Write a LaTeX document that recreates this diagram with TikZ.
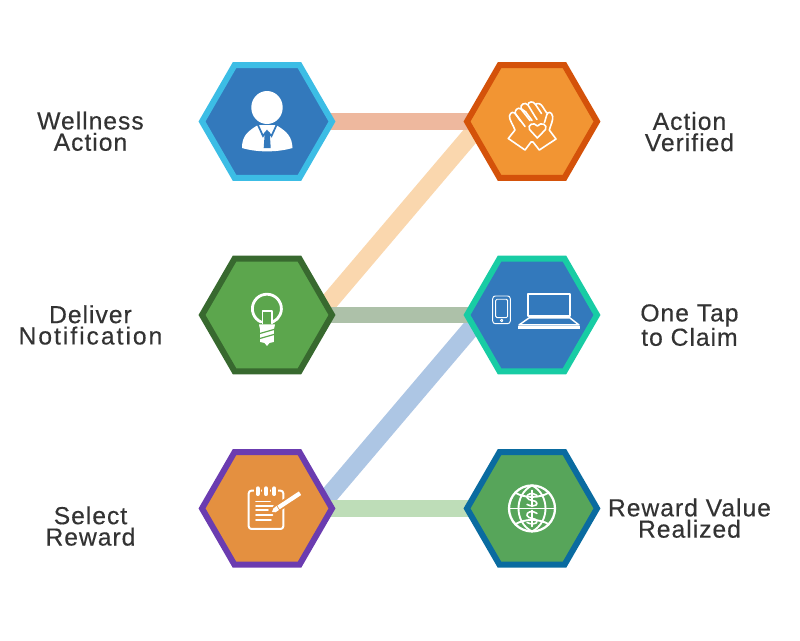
\documentclass[tikz,border=0pt]{standalone}
\usepackage{fontspec}
\setmainfont[LetterSpace=4,FakeBold=0.35]{Liberation Sans}
\usetikzlibrary{positioning}
\usetikzlibrary{shapes.geometric, backgrounds}
\definecolor{hexblue}{HTML}{3379BC}
\definecolor{hexsky}{HTML}{3CBDE5}
\definecolor{hexora}{HTML}{F29533}
\definecolor{hexrust}{HTML}{D4520A}
\definecolor{hexgre}{HTML}{5CA64D}
\definecolor{hexmoss}{HTML}{38692F}
\definecolor{hexteal}{HTML}{18CCA4}
\definecolor{hexamb}{HTML}{E49040}
\definecolor{hexpur}{HTML}{6B3CB0}
\definecolor{hexgre2}{HTML}{57A55A}
\definecolor{hexnavy}{HTML}{0A6BA0}
\definecolor{linkpink}{HTML}{EEB89E}
\definecolor{linkpeach}{HTML}{FAD7AE}
\definecolor{linksage}{HTML}{ADC1A9}
\definecolor{linkblue}{HTML}{ADC6E4}
\definecolor{linkmint}{HTML}{BEDDB8}
\definecolor{labelgray}{HTML}{333333}
\tikzstyle{hexa} = [regular polygon, regular polygon sides=6, shape border rotate=0, minimum size=97.5pt, inner sep=0pt, outer sep=0pt, line width=4.5pt, miter limit=10]
\tikzstyle{caption} = [align=center, text=labelgray, font=\fontsize{18.5}{16}\selectfont]
\tikzstyle{hlink} = [line width=12.6pt]
\tikzstyle{dlink} = [line width=13.5pt]
\tikzstyle{icon} = [draw=white, line width=1.2pt, line join=round, line cap=round]
\begin{document}
\begin{tikzpicture}[x=0.75pt,y=-0.75pt,on grid]
	\useasboundingbox (0,0) rectangle (800,640);
	\node (wellness) [hexa, fill=hexblue, draw=hexsky] at (267,121.5) {};
	\node (deliver) [hexa, fill=hexgre, draw=hexmoss, below=145.1pt of wellness] {};
	\node (select) [hexa, fill=hexamb, draw=hexpur, below=145.1pt of deliver] {};
	\node (verified) [hexa, fill=hexora, draw=hexrust, right=198.75pt of wellness] {};
	\node (claim) [hexa, fill=hexblue, draw=hexteal, right=198.75pt of deliver] {};
	\node (realized) [hexa, fill=hexgre2, draw=hexnavy, right=198.75pt of select] {};
	\node (lwellness) [caption, left=132.4pt of wellness, yshift=-7.3pt] {Wellness\\Action};
	\node (ldeliver) [caption, left=132.4pt of deliver, yshift=-7.5pt] {Deliver\\\addfontfeature{LetterSpace=8}Notification};
	\node (lselect) [caption, left=132.4pt of select, yshift=-13.2pt] {Select\\Reward};
	\node (lverified) [caption, right=118.1pt of verified, yshift=-7.6pt] {Action\\Verified};
	\node (lclaim) [caption, right=118.1pt of claim, yshift=-7.6pt] {One Tap\\to Claim};
	\node (lrealized) [caption, right=118.1pt of realized, yshift=-7.3pt] {Reward Value\\Realized};
	\begin{scope}[on background layer]
		\draw [dlink, linkpeach] ([shift={(36pt,-2.6pt)}]deliver.center) -- ([shift={(-35pt,2.6pt)}]verified.center);
		\draw [dlink, linkblue] ([shift={(36pt,-2.6pt)}]select.center) -- ([shift={(-35pt,2.6pt)}]claim.center);
		\draw [hlink, linkpink] (wellness.center) -- (verified.center);
		\draw [hlink, linksage] (deliver.center) -- (claim.center);
		\draw [hlink, linkmint] (select.center) -- (realized.center);
	\end{scope}
	\begin{scope}[shift={(wellness.center)}]
		\fill [white] (0,-14) ellipse [x radius=15.7, y radius=16.5];
		\fill [white] (-25,26.5) .. controls (-25,15) and (-20,10) .. (-9,3.5) -- (9,3.5) .. controls (20,10) and (25,15) .. (25.5,26.5) .. controls (10,31) and (-10,31) .. (-25,26.5) -- cycle;
		\draw [hexblue, line width=1.3pt, line join=miter] (-9.5,2.5) -- (-4,14.5) -- (0,9.5) -- (4.5,14.5) -- (10,2.5);
		\fill [hexblue] (-2.5,10.5) -- (2.5,10.5) -- (3,15) -- (3.7,26.5) -- (-3.3,26.5) -- (-2.5,15) -- cycle;
	\end{scope}
	\begin{scope}[shift={(verified.center)}, icon]
		\draw (-23.7,17) -- (-7,28.5) -- (-1,20.5) -- (1,20.5) -- (7.3,28.5) -- (24,17.5) -- (17.3,8.5) .. controls (19,3) and (21,-1) .. (20.7,-4.8) .. controls (20,-10) and (15.5,-10.5) .. (14.7,-6.5) -- (12.5,1);
		\draw (-23.7,17) -- (-17,8.5) .. controls (-19,3) and (-23,-2) .. (-22.5,-5.5) .. controls (-21.5,-10) and (-18,-10) .. (-16,-7) -- (-7,5);
		\draw (-11.5,-0.5) -- (-16.5,-7.5) .. controls (-18,-11) and (-14,-15) .. (-11,-12.5) -- (-2,-1);
		\draw (-5.5,-9) -- (-11,-13) .. controls (-12,-17) and (-7,-20) .. (-4,-16.5) -- (3,-5) (-6,-9) -- (0,-1);
		\draw (-4,-16.5) .. controls (-4,-20) and (1.5,-21) .. (3.5,-17) -- (9.5,-8) (3,-5) -- (5,-2);
		\draw (3.5,-17) .. controls (5,-19) and (9,-18) .. (10.5,-15) -- (14.7,-8.5);
		\draw (5.3,16.5) -- (-2.5,8) .. controls (-5,3) and (2,0) .. (5.3,4.5) .. controls (9,0) and (16,3) .. (13.5,8) -- cycle;
	\end{scope}
	\begin{scope}[shift={(deliver.center)}, icon]
		\draw [line width=2.1pt] (-6,7) arc [start angle=114, end angle=426, radius=14.5] ;
		\draw (-4.5,8.5) -- (-4.5,-4) -- (4.7,-4) -- (4.7,8.5);
		\fill [white] (-8,9.5) -- (8,9.5) -- (6.8,15) -- (6.8,27) -- (2.5,28) -- (0,31) -- (-2.5,28) -- (-6.8,27) -- (-6.8,15) -- cycle;
		\draw [hexgre, line width=0.9pt, line cap=butt] (-7,18.5) -- (7,14.5) (-7,23.5) -- (7,19.5);
	\end{scope}
	\begin{scope}[shift={(claim.center)}, icon]
		\draw [line width=0.7pt, rounded corners=2pt] (-39.3,-19) rectangle (-21.7,8.7);
		\draw [line width=0.7pt, rounded corners=1pt] (-36.3,-15.7) rectangle (-24.3,2.7);
		\draw [line width=0.7pt] (-30.3,5.5) circle [radius=1.2];
		\draw [line width=1.3pt] (-3.7,-21.3) rectangle (38,1);
		\draw [line width=1.1pt] (-3,3) -- (38,3) -- (47,10) -- (-13,10) -- cycle;
		\fill [white] (-14.3,11) rectangle (48,13.7);
	\end{scope}
	\begin{scope}[shift={(select.center)}, icon]
		\draw [line width=1.5pt, rounded corners=2pt] (-18.3,-17.8) rectangle (16.3,20.5);
		\foreach \ringx in {-9.3,-1,7.3} {
			\draw [hexamb, line width=5.6pt] (\ringx,-20) -- (\ringx,-14.5);
			\draw [line width=3.2pt] (\ringx,-20) -- (\ringx,-14.5);
		}
		\draw (-11,-6.8) -- (3,-6.8) (-11,-2.5) -- (7,-2.5) (-11,1.8) -- (1,1.8) (-11,6.5) -- (5.5,6.5) (-11,11.5) -- (4,11.5);
		\draw [hexamb, line width=6pt, line cap=butt] (8,1) -- (33,-15.2);
		\draw [line width=3.2pt, line cap=butt] (11.5,-1) -- (33,-15.2);
		\fill [white] (9.5,-2.5) -- (12,1.5) .. controls (10,4) and (7,4.5) .. (5,3.5) .. controls (5,1) and (7,-1) .. (9.5,-2.5) -- cycle;
	\end{scope}
	\begin{scope}[shift={(realized.center)}, icon]
		\draw [line width=1.7pt] (0,0) circle [radius=23];
		\draw [line width=1.4pt] (-23,0) -- (23,0);
		\draw [line width=1.4pt] (-17,-16) .. controls (-8,-10) and (8,-10) .. (17,-16);
		\draw [line width=1.4pt] (-17,16) .. controls (-8,10) and (8,10) .. (17,16);
		\draw [line width=1.4pt] (0,-23) .. controls (-18,-14) and (-18,14) .. (0,23);
		\draw [line width=1.4pt] (0,-23) .. controls (18,-14) and (18,14) .. (0,23);
		\draw (0,-18) -- (0,-2) (0,2) -- (0,18);
		\draw (5,-13) .. controls (0,-17) and (-6,-14) .. (-5,-11) .. controls (-4,-7) and (5,-9) .. (5,-5) .. controls (5,-2) and (-2,-2) .. (-5,-4);
		\draw (5,5) .. controls (0,1) and (-6,4) .. (-5,7) .. controls (-4,11) and (5,9) .. (5,13) .. controls (5,16) and (-2,16) .. (-5,14);
	\end{scope}
\end{tikzpicture}
\end{document}
